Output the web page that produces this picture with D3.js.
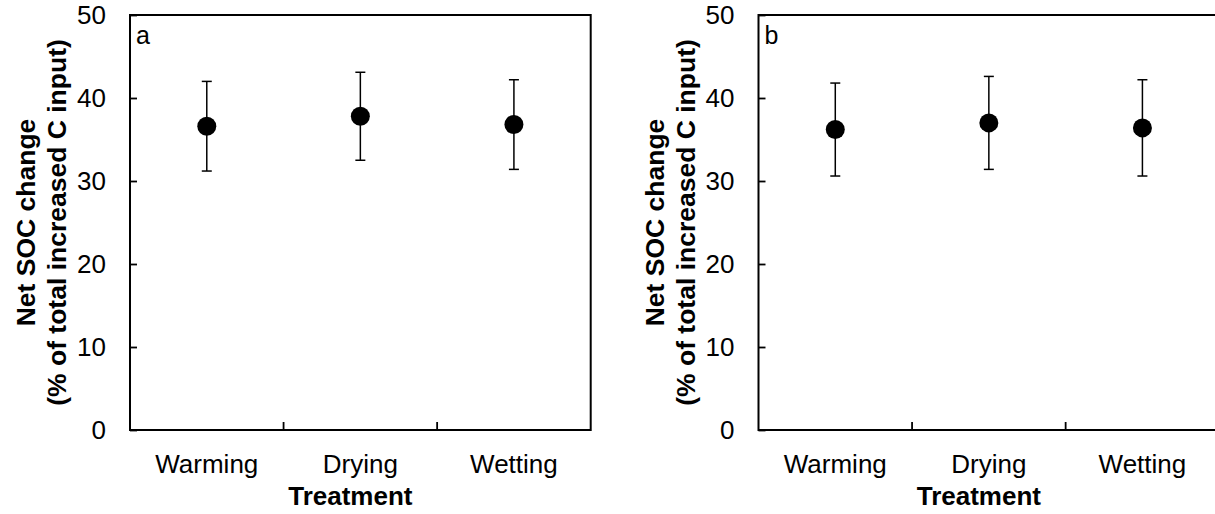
<!DOCTYPE html>
<html>
<head>
<meta charset="utf-8">
<script src="https://cdn.jsdelivr.net/npm/d3@7"></script>
<style>
  body { margin: 0; background: #fff; }
  text { font-family: Arial, "Liberation Sans", sans-serif; fill: #000; }
</style>
</head>
<body>
<svg id="chart" width="1215" height="514"></svg>
<script>
// data
let categories = ["Warming", "Drying", "Wetting"]
let meanA = [36.6, 37.8, 36.8]
let errA = [5.4, 5.3, 5.4]
let meanB = [36.2, 37.0, 36.4]
let errB = [5.6, 5.6, 5.8]
let yTicks = [0, 10, 20, 30, 40, 50]
let panelLabels = ["a", "b"]

let svg = d3.select('#chart')

let plotW = 460.7
let plotH = 415
let plotTop = 15

let panels = [
  {left: 130, label: panelLabels[0], means: meanA, errs: errA},
  {left: 758.5, label: panelLabels[1], means: meanB, errs: errB}
]

let x = d3.scaleBand().domain(categories).range([0, plotW]).padding(0)
let y = d3.scaleLinear().domain([0, 50]).range([plotH, 0])

panels.forEach((p) => {
  let g = svg.append('g').attr('transform', 'translate(' + p.left + ',' + plotTop + ')')

  // y axis, ticks pointing inward
  let yAxis = g.append('g')
    .call(d3.axisLeft(y).tickValues(yTicks).tickSizeInner(-7).tickSizeOuter(0).tickPadding(24))
  yAxis.select('.domain').remove()
  yAxis.selectAll('line').attr('stroke', '#000').attr('stroke-width', 1.8)
  yAxis.selectAll('text').style('font-size', '26px').attr('fill', '#000')

  // x axis labels only (ticks drawn at the boundaries)
  let xAxis = g.append('g')
    .attr('transform', 'translate(0,' + plotH + ')')
    .call(d3.axisBottom(x).tickSize(0).tickPadding(24.5))
  xAxis.select('.domain').remove()
  xAxis.selectAll('text').style('font-size', '26px').attr('fill', '#000')

  // boundary ticks on x
  g.selectAll('.xtick')
    .data(categories.slice(1))
    .enter()
    .append('line')
    .attr('x1', (d) => x(d))
    .attr('x2', (d) => x(d))
    .attr('y1', plotH)
    .attr('y2', plotH - 8)
    .attr('stroke', '#000')
    .attr('stroke-width', 1.8)

  // frame
  g.append('rect')
    .attr('x', 0).attr('y', 0)
    .attr('width', plotW).attr('height', plotH)
    .attr('fill', 'none')
    .attr('stroke', '#000')
    .attr('stroke-width', 2)

  // error bars
  let bars = g.selectAll('.err')
    .data(categories)
    .enter()
    .append('g')
    .attr('transform', (d) => 'translate(' + (x(d) + x.bandwidth() / 2) + ',0)')

  bars.append('line')
    .attr('x1', 0).attr('x2', 0)
    .attr('y1', (d, i) => y(p.means[i] - p.errs[i]))
    .attr('y2', (d, i) => y(p.means[i] + p.errs[i]))
    .attr('stroke', '#000').attr('stroke-width', 1.5)
  bars.append('line')
    .attr('x1', -5).attr('x2', 5)
    .attr('y1', (d, i) => y(p.means[i] + p.errs[i]))
    .attr('y2', (d, i) => y(p.means[i] + p.errs[i]))
    .attr('stroke', '#000').attr('stroke-width', 1.5)
  bars.append('line')
    .attr('x1', -5).attr('x2', 5)
    .attr('y1', (d, i) => y(p.means[i] - p.errs[i]))
    .attr('y2', (d, i) => y(p.means[i] - p.errs[i]))
    .attr('stroke', '#000').attr('stroke-width', 1.5)
  bars.append('circle')
    .attr('cx', 0)
    .attr('cy', (d, i) => y(p.means[i]))
    .attr('r', 9.5)
    .attr('fill', '#000')

  // panel letter
  g.append('text')
    .attr('x', 6).attr('y', 29)
    .style('font-size', '25px')
    .text(p.label)

  // y title, two lines
  let yt = g.append('text')
    .attr('transform', 'translate(0,' + (plotH / 2) + ') rotate(-90)')
    .attr('text-anchor', 'middle')
    .style('font-size', '26.5px')
    .style('font-weight', 'bold')
  yt.append('tspan').attr('x', 0).attr('y', -95).text('Net SOC change')
  yt.append('tspan').attr('x', 0).attr('y', -64).text('(% of total increased C input)')

  // x title
  g.append('text')
    .attr('x', plotW / 2 - 10)
    .attr('y', 490)
    .attr('text-anchor', 'middle')
    .style('font-size', '26px')
    .style('font-weight', 'bold')
    .text('Treatment')
})
</script>
</body>
</html>
